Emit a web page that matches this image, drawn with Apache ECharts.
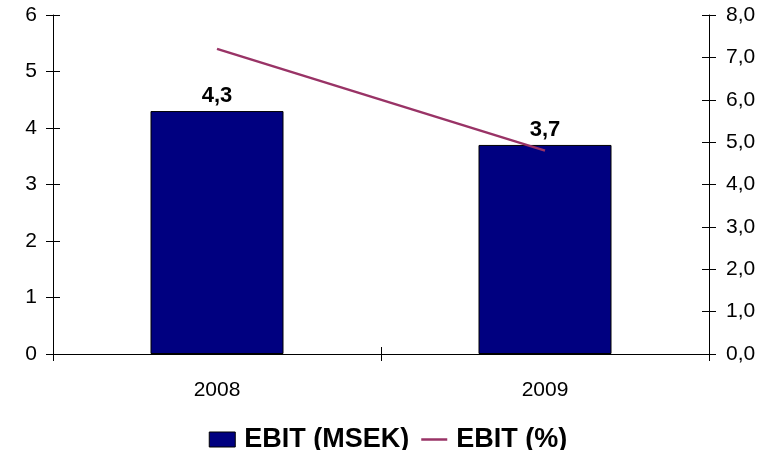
<!DOCTYPE html>
<html>
<head>
<meta charset="utf-8">
<script src="https://cdn.jsdelivr.net/npm/echarts@6/dist/echarts.min.js"></script>
<style>html,body{margin:0;padding:0;background:#fff}#c{width:776px;height:450px}</style>
</head>
<body>
<div id="c"></div>
<script>
var categories = ['2008', '2009'];
var ebitMsek = [4.3, 3.7];
var ebitPct = [7.2, 4.8];
var seriesNames = ['EBIT (MSEK)', 'EBIT (%)'];

var font = 'Liberation Sans, Arial, sans-serif';
function comma(v, d) { return (d != null ? v.toFixed(d) : String(v)).replace('.', ','); }

var chart = echarts.init(document.getElementById('c'));
var axisLine = { show: true, lineStyle: { color: '#000', width: 1 } };
chart.setOption({
  animation: false,
  backgroundColor: '#fff',
  grid: { left: 53, right: 67, top: 15, bottom: 96 },
  legend: {
    data: [
      { name: seriesNames[0], icon: 'rect', itemStyle: { color: '#000080', borderColor: '#000', borderWidth: 1 } },
      { name: seriesNames[1], icon: 'path://M0,0H26V2.5H0Z', itemStyle: { color: '#993366', borderWidth: 0 } }
    ],
    left: 'center',
    top: 421,
    itemWidth: 26,
    itemHeight: 15,
    itemGap: 12,
    textStyle: { fontFamily: font, fontSize: 27, fontWeight: 'bold', color: '#000', padding: [0, 0, 0, 4] }
  },
  xAxis: [{
    type: 'category',
    data: categories,
    axisLine: axisLine,
    axisTick: { show: true, length: 7, lineStyle: { color: '#000' } },
    axisLabel: { fontFamily: font, fontSize: 21, color: '#000', margin: 26 }
  }, {
    type: 'category',
    data: categories,
    position: 'bottom',
    axisLine: { show: false },
    axisTick: { show: true, inside: true, length: 7, lineStyle: { color: '#000' } },
    axisLabel: { show: false }
  }],
  yAxis: [{
    type: 'value', min: 0, max: 6, interval: 1, position: 'left',
    axisLine: axisLine,
    axisTick: { show: true, length: 7, lineStyle: { color: '#000' } },
    splitLine: { show: false },
    axisLabel: { fontFamily: font, fontSize: 21, color: '#000', margin: 16 }
  }, {
    type: 'value', min: 0, max: 8, interval: 1, position: 'right',
    axisLine: axisLine,
    axisTick: { show: true, length: 7, lineStyle: { color: '#000' } },
    splitLine: { show: false },
    axisLabel: { fontFamily: font, fontSize: 21, color: '#000', margin: 17, formatter: function (v) { return comma(v, 1); } }
  }, {
    type: 'value', min: 0, max: 6, interval: 1, position: 'left',
    axisLine: { show: false },
    axisTick: { show: true, inside: true, length: 7, lineStyle: { color: '#000' } },
    splitLine: { show: false },
    axisLabel: { show: false }
  }, {
    type: 'value', min: 0, max: 8, interval: 1, position: 'right',
    axisLine: { show: false },
    axisTick: { show: true, inside: true, length: 7, lineStyle: { color: '#000' } },
    splitLine: { show: false },
    axisLabel: { show: false }
  }],
  series: [{
    name: seriesNames[0],
    type: 'bar',
    data: ebitMsek,
    yAxisIndex: 0,
    barWidth: 133,
    itemStyle: { color: '#000080', borderColor: '#000', borderWidth: 1 },
    label: {
      show: true, position: 'top', distance: 4,
      fontFamily: font, fontSize: 22, fontWeight: 'bold', color: '#000',
      formatter: function (p) { return comma(p.value); }
    }
  }, {
    name: seriesNames[1],
    type: 'line',
    data: ebitPct,
    yAxisIndex: 1,
    symbol: 'none',
    lineStyle: { color: '#993366', width: 2.5 },
    itemStyle: { color: '#993366' }
  }]
});
</script>
</body>
</html>
